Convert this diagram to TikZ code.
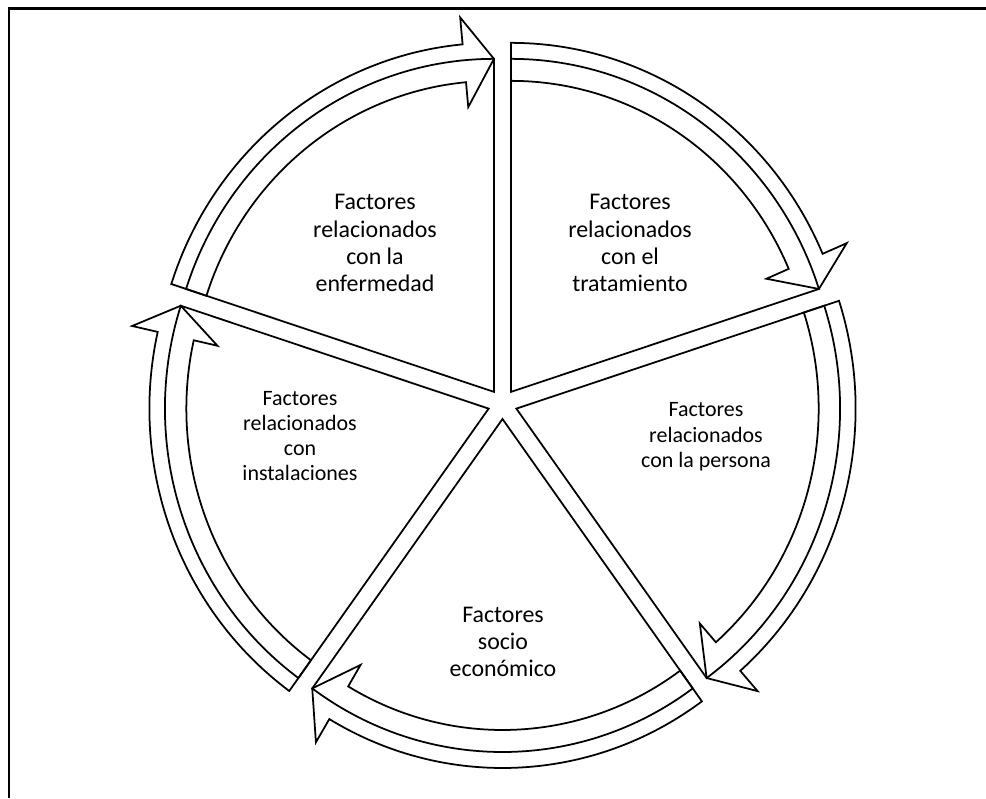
\documentclass[tikz,border=0pt]{standalone}
\usepackage{fontspec}
\setmainfont{Carlito}

\begin{document}
\begin{tikzpicture}[x=0.02cm,y=0.02cm,line width=1pt,
    biglbl/.style={align=center,font=\fontsize{13.6}{15.4}\selectfont},
    smalllbl/.style={align=center,font=\fontsize{12.5}{14.4}\selectfont}]
  %
  % macro: one slice of the pie with its arrow, #1 = middle angle
  \newcommand{\pieseg}[1]{
    \begin{scope}[shift={(#1:15)}]
      \draw (0,0) -- (#1+36:333) arc[start angle=#1+36, end angle=#1-36, radius=333] -- cycle;
      \draw (#1+36:311) arc[start angle=#1+36, end angle=#1-30.7, radius=311]
        -- (#1-30.7:286) -- (#1-36:333) -- (#1-30.7:376) -- (#1-30.7:349)
        arc[start angle=#1-30.7, end angle=#1+36, radius=349] -- cycle;
    \end{scope}
  }
  %
  \useasboundingbox (0,0) rectangle (986,798);
  \draw[line width=1.7pt] (9,0) -- (9,789) -- (986,789);
  %
  \begin{scope}[shift={(502.5,394)},xscale=0.972]
    \pieseg{126}
    \pieseg{54}
    \pieseg{-18}
    \pieseg{-90}
    \pieseg{-162}
  \end{scope}
  %
  \node[biglbl] (enf) at (375,555) {Factores\\relacionados\\con la\\enfermedad};
  \node[biglbl] (trat) at (630,555) {Factores\\relacionados\\con el\\tratamiento};
  \node[smalllbl] (pers) at (706,361) {Factores\\relacionados\\con la persona};
  \node[biglbl] (socio) at (503,156) {Factores\\socio\\económico};
  \node[smalllbl] (inst) at (300,362) {Factores\\relacionados\\con\\instalaciones};
\end{tikzpicture}
\end{document}
